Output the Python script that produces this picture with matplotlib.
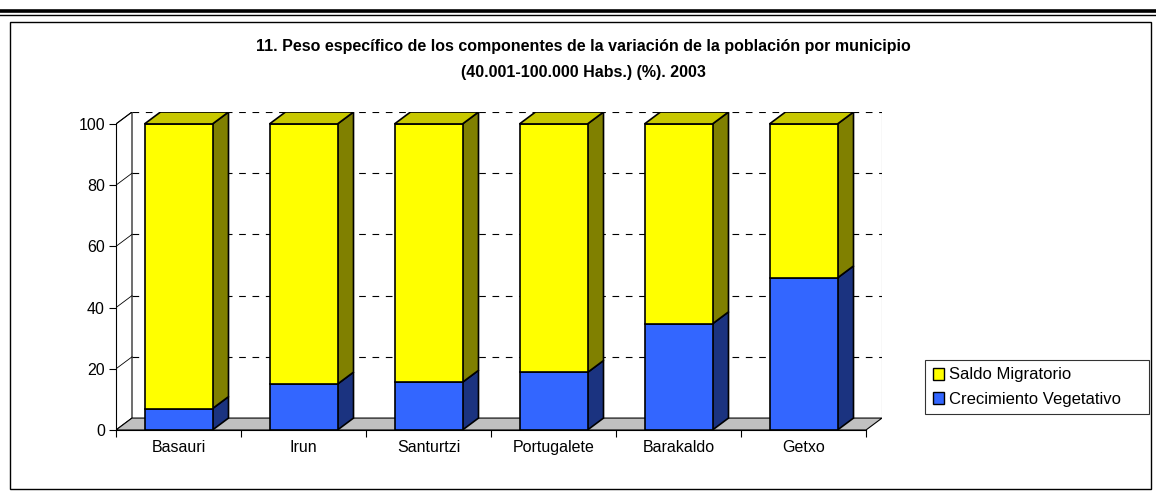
import matplotlib.pyplot as plt
from matplotlib.patches import Polygon, Rectangle, Patch
from matplotlib.lines import Line2D

plt.rcParams['font.family'] = ['Liberation Sans', 'DejaVu Sans']

municipios = ['Basauri', 'Irun', 'Santurtzi', 'Portugalete', 'Barakaldo', 'Getxo']
crecimiento = [7.0, 15.0, 15.6, 18.8, 34.7, 49.7]
saldo = [100 - c for c in crecimiento]
series = ['Saldo Migratorio', 'Crecimiento Vegetativo']

W, H = 1156, 491
fig = plt.figure(figsize=(W / 100, H / 100), dpi=100)

# frame and double rule on top
fig.add_artist(Line2D([0, 1], [1 - 10.5 / H] * 2, color='black', lw=2.6, transform=fig.transFigure))
fig.add_artist(Line2D([0, 1], [1 - 14.5 / H] * 2, color='black', lw=1.0, transform=fig.transFigure))
fig.add_artist(Rectangle((10 / W, 2 / H), 1141 / W, (H - 22 - 2) / H, fill=False,
                         edgecolor='black', lw=1.0, transform=fig.transFigure))

fig.text(0.505, 1 - 47 / H, '11. Peso específico de los componentes de la variación de la población por municipio',
         ha='center', va='center', fontsize=11.5, fontweight='bold')
fig.text(0.505, 1 - 73 / H, '(40.001-100.000 Habs.) (%). 2003',
         ha='center', va='center', fontsize=11.5, fontweight='bold')

DX, DY = 0.128, 3.9
n = len(municipios)
left_px, right_px = 116, 116 + 125 * n + 16
top_px, bot_px = 112, 430
ax = fig.add_axes([left_px / W, 1 - bot_px / H, (right_px - left_px) / W, (bot_px - top_px) / H])
ax.set_xlim(-0.5, n - 0.5 + DX)
ax.set_ylim(0, 100 + DY)
ax.patch.set_visible(False)

# walls and floor
ax.add_patch(Polygon([(-0.5, 0), (-0.5, 100), (-0.5 + DX, 100 + DY), (-0.5 + DX, DY)],
                     facecolor='white', edgecolor='black', lw=0.8, zorder=0))
ax.add_patch(Polygon([(-0.5, 0), (n - 0.5, 0), (n - 0.5 + DX, DY), (-0.5 + DX, DY)],
                     facecolor='#C0C0C0', edgecolor='black', lw=0.8, zorder=1))
ax.plot([n - 0.5 + DX, n - 0.5 + DX], [DY, 100 + DY], color='#808080', lw=0.8, zorder=0)
for v in [20, 40, 60, 80, 100]:
    ax.plot([-0.5 + DX, n - 0.5 + DX], [v + DY, v + DY], color='black', lw=0.8,
            dashes=(6, 6), zorder=1)
    ax.plot([-0.5, -0.5 + DX], [v, v + DY], color='black', lw=0.6, zorder=1)

hw = 0.272
colors = [('#3366FF', '#1B3380', '#3366FF'), ('#FFFF00', '#808000', '#C8C800')]
for i in range(n):
    x0, x1 = i - hw, i + hw
    bottoms = [0, crecimiento[i]]
    tops = [crecimiento[i], crecimiento[i] + saldo[i]]
    for k in range(2):
        b, t = bottoms[k], tops[k]
        front, side, top = colors[k]
        ax.add_patch(Polygon([(x1, b), (x1 + DX, b + DY), (x1 + DX, t + DY), (x1, t)],
                             facecolor=side, edgecolor='black', lw=1.2, zorder=3))
        ax.add_patch(Rectangle((x0, b), x1 - x0, t - b, facecolor=front,
                               edgecolor='black', lw=1.2, zorder=4))
        if k == 1:
            ax.add_patch(Polygon([(x0, t), (x1, t), (x1 + DX, t + DY), (x0 + DX, t + DY)],
                                 facecolor=top, edgecolor='black', lw=1.2, zorder=4))

for s in ['top', 'right']:
    ax.spines[s].set_visible(False)
ax.spines['left'].set_bounds(0, 100)
ax.spines['bottom'].set_bounds(-0.5, n - 0.5)
ax.spines['left'].set_zorder(5)
ax.spines['bottom'].set_zorder(5)
ax.set_yticks([0, 20, 40, 60, 80, 100])
ax.tick_params(axis='y', direction='out', length=5, width=0.8, labelsize=11.5, pad=3)
ax.set_xticks([i - 0.5 for i in range(n + 1)])
ax.set_xticklabels([])
ax.set_xticks(list(range(n)), minor=True)
ax.set_xticklabels(municipios, minor=True, fontsize=11.5)
ax.tick_params(axis='x', which='major', direction='out', length=5, width=0.8)
ax.tick_params(axis='x', which='minor', length=0, pad=7)

handles = [Patch(facecolor='#FFFF00', edgecolor='black', lw=1.0),
           Patch(facecolor='#3366FF', edgecolor='black', lw=1.0)]
leg = fig.legend(handles, series, loc='upper left',
                 bbox_to_anchor=(925 / W, 1 - 360 / H, 224 / W, 0), mode='expand',
                 fontsize=12, frameon=True, fancybox=False, edgecolor='black',
                 handlelength=0.7, handleheight=0.7, handletextpad=0.3,
                 borderpad=0.45, labelspacing=0.55, borderaxespad=0)
leg.get_frame().set_linewidth(0.8)

fig.savefig('out.png', dpi=100)
